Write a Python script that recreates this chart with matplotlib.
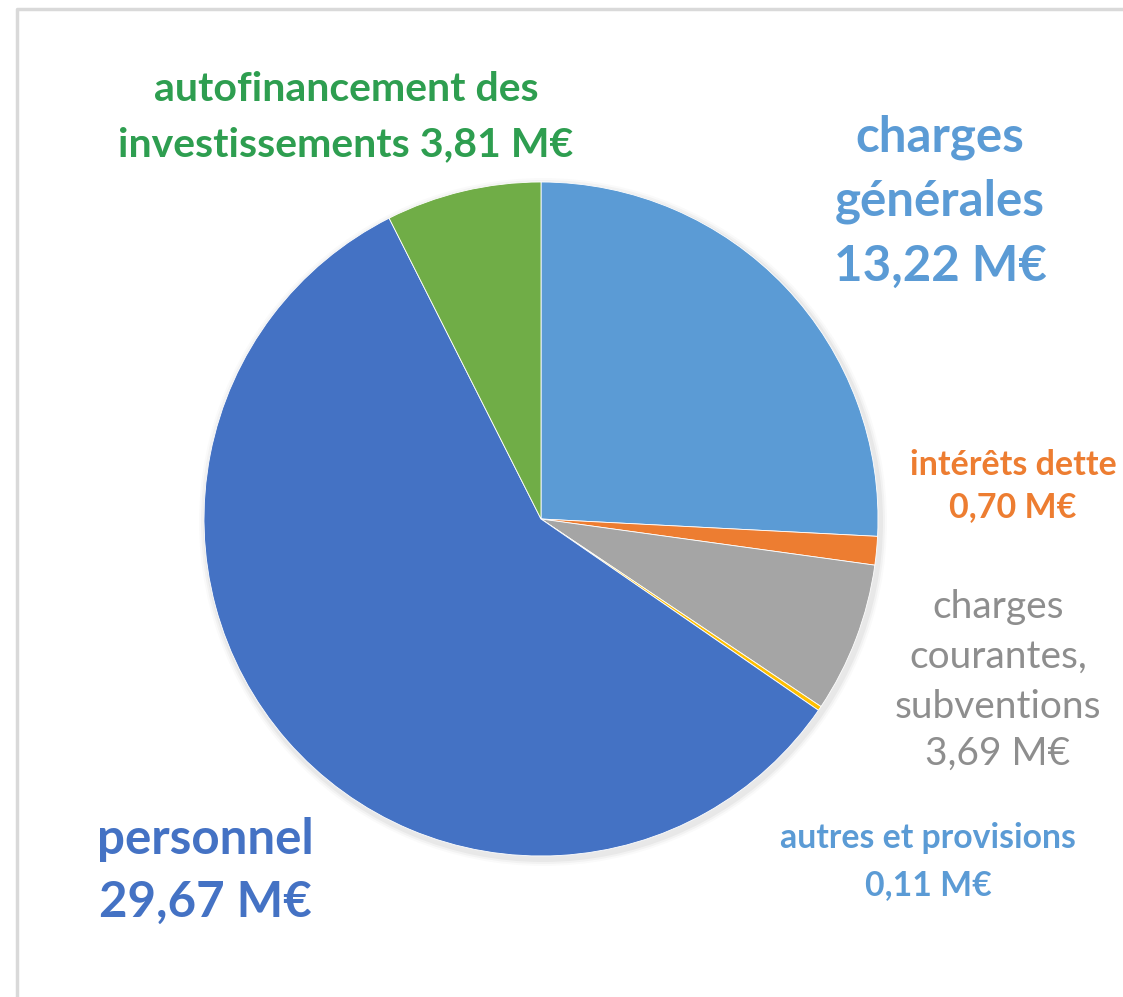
import matplotlib
matplotlib.use("Agg")
import matplotlib.pyplot as plt
from matplotlib.lines import Line2D

categories = ["charges générales", "intérêts dette", "charges courantes, subventions",
              "autres et provisions", "personnel", "autofinancement des investissements"]
values = [13.22, 0.70, 3.69, 0.11, 29.67, 3.81]
colors = ["#5B9BD5", "#ED7D31", "#A5A5A5", "#FFC000", "#4472C4", "#70AD47"]
label_lines = [
    ["charges", "générales", "13,22 M€"],
    ["intérêts dette", "0,70 M€"],
    ["charges", "courantes,", "subventions", "3,69 M€"],
    ["autres et provisions", "0,11 M€"],
    ["personnel", "29,67 M€"],
    ["autofinancement des", "investissements 3,81 M€"],
]

W, H = 1123, 997
fig = plt.figure(figsize=(W / 100, H / 100), dpi=100)
ax = fig.add_axes([0, 0, 1, 1])

# frame (top and left edges only)
ax.add_line(Line2D([17, 17, W], [0, H - 9, H - 9], color="#d9d9d9", linewidth=2.5))

cx, cy, r = 541, H - 519, 337
# soft shadow
for i, a in enumerate([0.04, 0.03, 0.02]):
    ax.pie([1], colors=["#000000"], radius=r + 3 + 2 * i, center=(cx + 2, cy - 3),
           wedgeprops=dict(alpha=a, linewidth=0), frame=True)
ax.pie(values, colors=colors, startangle=90, counterclock=False, radius=r,
       center=(cx, cy), wedgeprops=dict(linewidth=0.6, edgecolor="white"), frame=True)
ax.set_xlim(0, W)
ax.set_ylim(0, H)
ax.set_aspect("equal")
ax.axis("off")

fam = ["Lato", "DejaVu Sans"]

# (x center, y of each line in pixels from top, colour, size, weight)
styles = [
    (940, [137, 201, 266], "#5B9BD5", 35.5, "bold"),
    (1013, [465, 507], "#ED7D31", 24.5, "bold"),
    (998, [607, 657, 707, 754], "#8E8E8E", 28, "normal"),
    (928, [838, 885], "#5B9BD5", 24.3, "bold"),
    (205, [840, 902], "#4472C4", 35.5, "bold"),
    (346, [90, 145], "#2E9E50", 29.5, "bold"),
]

for lines, (x, ys, color, size, weight) in zip(label_lines, styles):
    for s, y in zip(lines, ys):
        ax.text(x, H - y, s, ha="center", va="center", color=color, fontsize=size,
                fontweight=weight, family=fam)

fig.savefig("out.png", dpi=100)
